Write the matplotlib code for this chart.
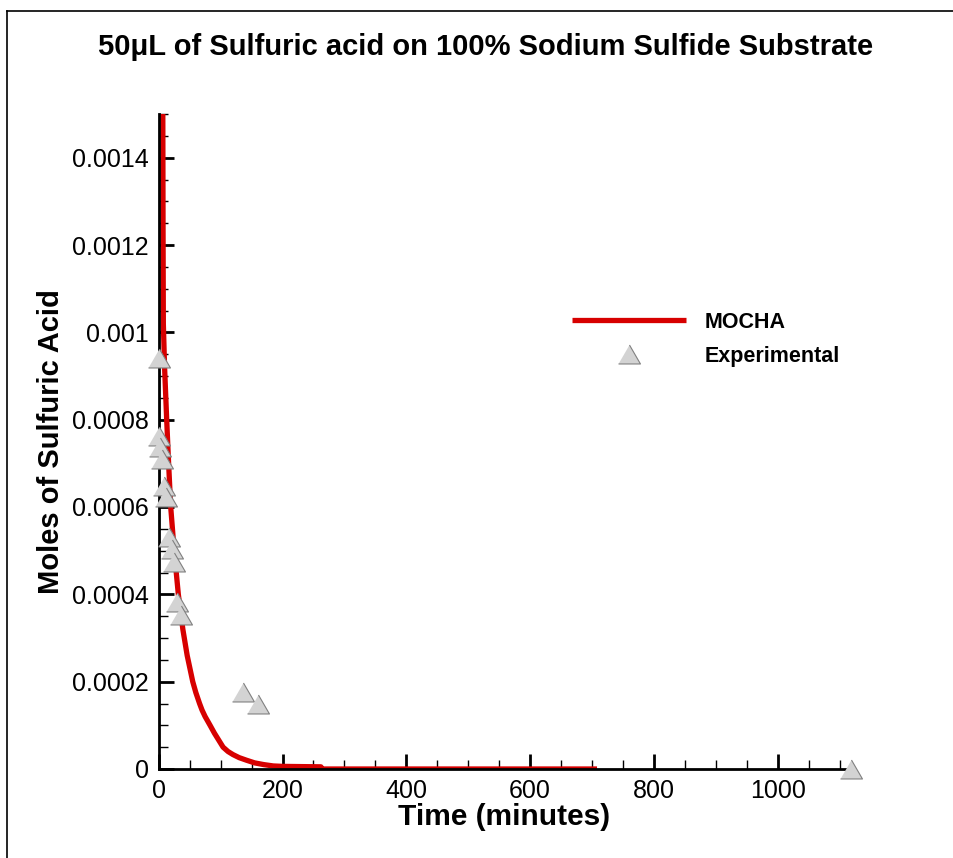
import numpy as np
import matplotlib
matplotlib.use('Agg')
import matplotlib.pyplot as plt
from matplotlib.lines import Line2D
from matplotlib.ticker import MultipleLocator

plt.rcParams['font.family'] = ['Liberation Sans', 'DejaVu Sans']

# model curve (MOCHA)
mocha_t = [6.5, 7.0, 7.5, 9.5, 12.9, 16.0, 19.4, 25.0, 31.7, 39.0, 46.0, 55.0,
           60.0, 66.0, 70.0, 75.0, 83.0, 90.0, 97.0, 104.0, 112.0, 120.0, 130.0,
           142.0, 155.0, 170.0, 185.0, 200.0, 262.0, 264.0, 708.0]
mocha_y = [0.0016, 0.00125, 0.00102, 0.00092, 0.0008, 0.0007, 0.0006, 0.0005,
           0.0004, 0.00032, 0.00026, 0.0002, 0.000175, 0.00015, 0.000135, 0.00012,
           0.0001, 0.000082, 0.000066, 0.00005, 0.00004, 0.000033, 0.000026,
           0.00002, 0.000014, 0.00001, 0.000007, 0.000006, 0.000005, 0.0, 0.0]

# experimental points
exp_t = [0.0, 0.5, 2.0, 5.0, 9.0, 12.0, 17.0, 21.0, 24.0, 29.0, 35.5, 136.7, 160.0, 1118.0]
exp_y = [0.000942, 0.000763, 0.000737, 0.00071, 0.000649, 0.000622, 0.000531,
         0.000504, 0.000474, 0.000382, 0.000352, 0.000177, 0.00015, 0.0]

x_ticks = [0, 200, 400, 600, 800, 1000]
x_labels = ['0', '200', '400', '600', '800', '1000']
y_ticks = [0, 0.0002, 0.0004, 0.0006, 0.0008, 0.001, 0.0012, 0.0014]
y_labels = ['0', '0.0002', '0.0004', '0.0006', '0.0008', '0.001', '0.0012', '0.0014']

W, H = 954, 858
fig = plt.figure(figsize=(W / 100, H / 100), dpi=100)
ax = fig.add_axes([158.7 / W, 1 - 769 / H, (849 - 158.7) / W, (769 - 114) / H])

# frame around the figure (only top and left visible)
fig.add_artist(Line2D([7 / W, 7 / W], [0, 1 - 11 / H], color='black', lw=1.2))
fig.add_artist(Line2D([7 / W, 1], [1 - 11 / H, 1 - 11 / H], color='black', lw=1.2))

red = '#d70000'
ax.plot(mocha_t, mocha_y, color=red, lw=3.8, solid_capstyle='butt',
        solid_joinstyle='round', zorder=2, label='MOCHA')

tri = [(-1, -0.8636), (1, -0.8636), (0, 0.8636)]
ax.plot(exp_t, exp_y, ls='none', marker=tri, markersize=15.8,
        markerfacecolor='#d3d3d3', markeredgecolor='#808080', markeredgewidth=0.8,
        clip_on=False, zorder=4, label='Experimental')

ax.set_xlim(0, 1115)
ax.set_ylim(0, 0.0015)

for s in ['top', 'right']:
    ax.spines[s].set_visible(False)
for s in ['left', 'bottom']:
    ax.spines[s].set_linewidth(2.0)

ax.set_xticks(x_ticks)
ax.set_xticklabels(x_labels)
ax.set_yticks(y_ticks)
ax.set_yticklabels(y_labels)
ax.xaxis.set_minor_locator(MultipleLocator(50))
ax.yaxis.set_minor_locator(MultipleLocator(0.00005))
ax.tick_params(which='major', direction='in', length=11, width=2.0, labelsize=18, pad=7)
ax.tick_params(which='minor', direction='in', length=6.5, width=1.0)

ax.set_xlabel('Time (minutes)', fontsize=21.5, fontweight='bold', labelpad=0)
ax.set_ylabel('Moles of Sulfuric Acid', fontsize=21, fontweight='bold', labelpad=5)

fig.text(486 / W, 1 - 47 / H, '50\u03bcL of Sulfuric acid on 100% Sodium Sulfide Substrate',
         ha='center', va='center', fontsize=21, fontweight='bold')

leg = ax.legend(loc='upper left', bbox_to_anchor=(572 / W, 1 - 312 / H),
                bbox_transform=fig.transFigure, frameon=False, borderpad=0,
                borderaxespad=0, handlelength=5.3, handletextpad=0.84,
                labelspacing=0.6, prop={'size': 15.5, 'weight': 'bold'})

fig.savefig('out.png', dpi=100)
